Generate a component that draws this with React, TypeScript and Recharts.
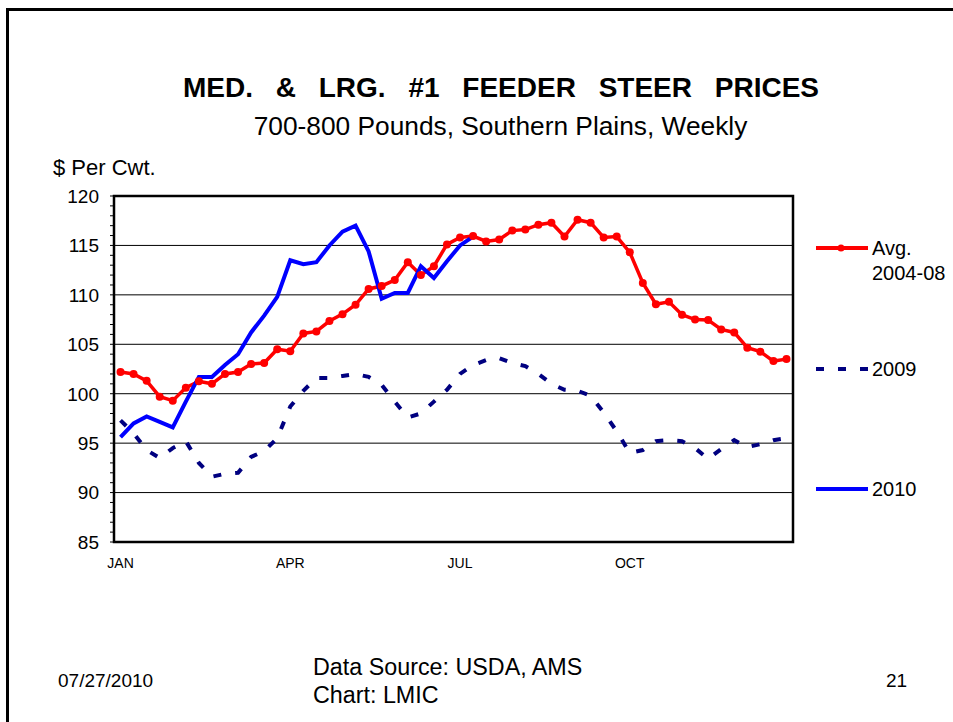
import React from "react";
import {
  ComposedChart,
  Line,
  XAxis,
  YAxis,
  ReferenceLine,
  ReferenceArea,
} from "recharts";

// weekly prices, $ per cwt
const AVG_0408 = [
  102.2, 102.0, 101.3, 99.7, 99.3, 100.6, 101.25, 101.0, 102.0, 102.2, 103.0,
  103.1, 104.5, 104.3, 106.1, 106.3, 107.35, 108.05, 109.0, 110.6, 110.9, 111.5,
  113.3, 112.0, 112.9, 115.1, 115.8, 115.95, 115.4, 115.6, 116.5, 116.6, 117.1,
  117.3, 115.9, 117.6, 117.3, 115.8, 115.9, 114.3, 111.2, 109.05, 109.3, 108.0,
  107.5, 107.45, 106.5, 106.2, 104.65, 104.25, 103.3, 103.5,
];

const Y2009 = [
  97.3, 96.0, 94.3, 93.5, 94.5, 95.2, 93.0, 91.6, 91.9, 92.0, 93.6, 94.2, 95.5,
  98.7, 100.3, 101.6, 101.6, 101.8, 102.0, 101.7, 100.9, 99.2, 97.6, 98.0, 99.2,
  100.4, 102.0, 102.9, 103.4, 103.6, 103.1, 102.8, 102.0, 101.0, 100.4, 100.3,
  99.8, 98.1, 96.2, 94.0, 94.3, 95.2, 95.3, 95.2, 94.5, 93.4, 94.4, 95.3, 94.6,
  94.9, 95.3, 95.5,
];

const Y2010 = [
  95.6, 97.0, 97.7, 97.15, 96.6, 99.2, 101.7, 101.7, 102.9, 104.0, 106.2, 107.9,
  109.8, 113.5, 113.1, 113.3, 115.0, 116.4, 117.0, 114.4, 109.6, 110.2, 110.2,
  112.9, 111.7, 113.4, 115.0, 115.9,
];

const WEEKS = AVG_0408.map((_, i) => i + 1);
const MONTH_WEEKS = [1, 14, 27, 40];
const MONTH_LABELS = ["JAN", "APR", "JUL", "OCT"];
const WEEK_BOUNDS = [...WEEKS.map((w) => w - 0.5), 52.5];
const Y_TICKS = Array.from({ length: 36 }, (_, i) => 85 + i);
const GRID_VALUES = [90, 95, 100, 105, 110, 115];

const data = WEEKS.map((week, i) => ({
  week,
  avg: AVG_0408[i],
  y2009: Y2009[i],
  y2010: i < Y2010.length ? Y2010[i] : null,
}));

const FONT = "'Liberation Sans', Arial, sans-serif";

const SERIES = [
  { key: "avg", label: ["Avg.", "2004-08"], color: "#FF0000", dash: undefined, dot: true, y: 248 },
  { key: "y2009", label: ["2009"], color: "#000080", dash: "8 14", dot: false, y: 369 },
  { key: "y2010", label: ["2010"], color: "#0000FF", dash: undefined, dot: false, y: 489 },
];

function YTick(props: any) {
  const { x, y, payload } = props;
  if (payload.value % 5 !== 0) return null;
  return (
    <text x={x} y={y} dy="0.36em" textAnchor="end" fontSize={19} fontFamily={FONT} fill="#000">
      {payload.value}
    </text>
  );
}

function Legend() {
  return (
    <>
      {SERIES.map((s) => (
        <div key={s.key} style={{ position: "absolute", left: 815, top: s.y - 12 }}>
          <svg width={54} height={24} style={{ position: "absolute", left: 0, top: 0 }}>
            <line x1={1} x2={53} y1={12} y2={12} stroke={s.color} strokeWidth={4} strokeDasharray={s.dash} />
            {s.dot && <circle cx={26} cy={12} r={3.5} fill={s.color} />}
          </svg>
          <div style={{ position: "absolute", left: 57, top: 0, fontSize: 20, lineHeight: "25px", whiteSpace: "nowrap" }}>
            {s.label.map((t) => (
              <div key={t}>{t}</div>
            ))}
          </div>
        </div>
      ))}
    </>
  );
}

export default function App() {
  return (
    <div style={{ position: "absolute", left: 0, top: 0, width: 953, height: 722, background: "#fff", fontFamily: FONT, color: "#000", overflow: "hidden" }}>
      <div style={{ position: "absolute", left: 6, top: 8, width: 960, height: 730, borderLeft: "3px solid #000", borderTop: "3px solid #000" }} />
      <div style={{ position: "absolute", left: 0, width: 1002, top: 74, textAlign: "center", fontSize: 28, fontWeight: "bold", lineHeight: "28px", wordSpacing: 15, whiteSpace: "nowrap" }}>
        MED. &amp; LRG. #1 FEEDER STEER PRICES
      </div>
      <div style={{ position: "absolute", left: 0, width: 1001, top: 113, textAlign: "center", fontSize: 26.3, lineHeight: "26px", whiteSpace: "nowrap" }}>
        700-800 Pounds, Southern Plains, Weekly
      </div>
      <div style={{ position: "absolute", left: 53, top: 157, fontSize: 22, lineHeight: "22px", whiteSpace: "nowrap" }}>
        $ Per Cwt.
      </div>

      <div style={{ position: "absolute", left: 0, top: 0 }}>
        <ComposedChart width={953} height={722} data={data} margin={{ top: 196, right: 160, bottom: 150, left: 54 }}>
          <XAxis
            dataKey="week"
            type="number"
            domain={[0.5, 52.5]}
            ticks={WEEK_BOUNDS}
            interval={0}
            tick={false}
            tickSize={5}
            height={6}
            axisLine={false}
            tickLine={{ stroke: "#000", strokeWidth: 1 }}
          />
          <XAxis
            xAxisId="months"
            dataKey="week"
            type="number"
            domain={[0.5, 52.5]}
            ticks={MONTH_WEEKS}
            interval={0}
            tickFormatter={(v: number) => MONTH_LABELS[MONTH_WEEKS.indexOf(v)]}
            tick={{ fontSize: 14, fill: "#000", fontFamily: FONT }}
            tickSize={0}
            tickMargin={10}
            height={24}
            axisLine={false}
            tickLine={false}
          />
          <YAxis
            type="number"
            domain={[85, 120]}
            ticks={Y_TICKS}
            interval={0}
            width={60}
            tickSize={4}
            tickMargin={11}
            tick={<YTick />}
            axisLine={false}
            tickLine={{ stroke: "#000", strokeWidth: 1 }}
          />
          {GRID_VALUES.map((v) => (
            <ReferenceLine key={v} y={v} stroke="#000" strokeWidth={1} />
          ))}
          <ReferenceArea x1={0.5} x2={52.5} y1={85} y2={120} fill="none" stroke="#000" strokeWidth={2.5} />
          <Line
            dataKey="y2009"
            stroke="#000080"
            strokeWidth={4}
            strokeDasharray="8 14"
            dot={false}
            isAnimationActive={false}
          />
          <Line
            dataKey="avg"
            stroke="#FF0000"
            strokeWidth={3.5}
            dot={{ r: 4, fill: "#FF0000", stroke: "none" }}
            isAnimationActive={false}
          />
          <Line
            dataKey="y2010"
            stroke="#0000FF"
            strokeWidth={4}
            dot={false}
            connectNulls={false}
            isAnimationActive={false}
          />
        </ComposedChart>
      </div>

      <Legend />

      <div style={{ position: "absolute", left: 58, top: 671, fontSize: 19, lineHeight: "19px" }}>07/27/2010</div>
      <div style={{ position: "absolute", left: 313, top: 653, fontSize: 23.3, lineHeight: "28px", whiteSpace: "nowrap" }}>
        <div>Data Source: USDA, AMS</div>
        <div>Chart: LMIC</div>
      </div>
      <div style={{ position: "absolute", left: 886, top: 671, fontSize: 19, lineHeight: "19px" }}>21</div>
    </div>
  );
}
